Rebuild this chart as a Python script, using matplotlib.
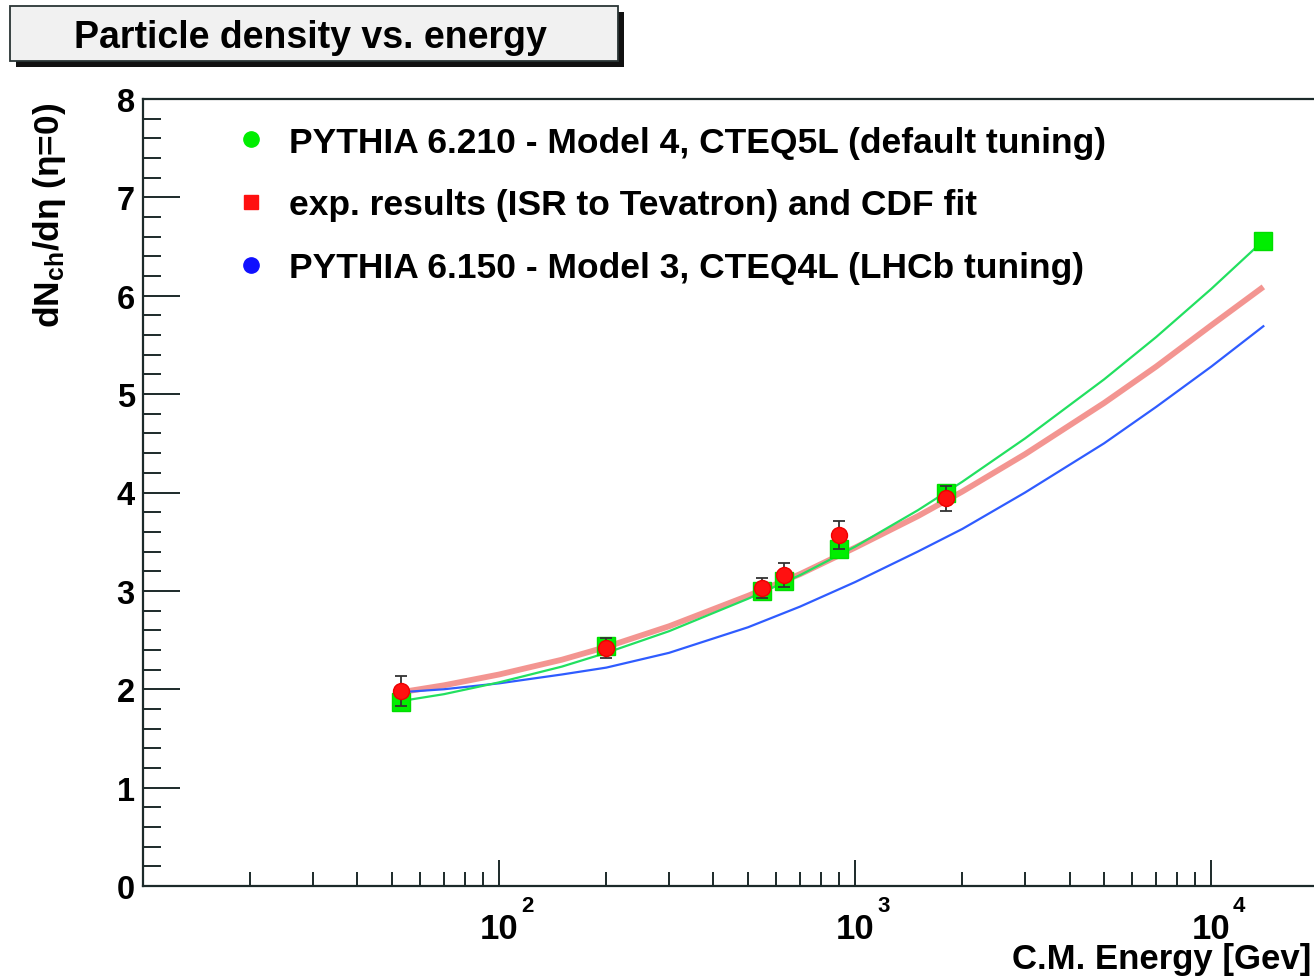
import numpy as np
import matplotlib
matplotlib.use("Agg")
import matplotlib.pyplot as plt
from matplotlib.patches import Rectangle
from matplotlib.lines import Line2D
from matplotlib.transforms import blended_transform_factory, ScaledTranslation
from matplotlib.ticker import FixedLocator, MultipleLocator, NullFormatter

# ---- data -------------------------------------------------------------
# Measured charged-particle density (ISR to Tevatron)
energy_exp = [53, 200, 546, 630, 900, 1800]
dndeta_exp = [1.98, 2.42, 3.03, 3.16, 3.57, 3.94]
dndeta_exp_err = [0.15, 0.10, 0.10, 0.12, 0.14, 0.13]

# PYTHIA 6.210 points (Model 4, CTEQ5L default tuning)
energy_p62 = [53, 200, 546, 630, 900, 1800, 14000]
dndeta_p62 = [1.87, 2.44, 3.00, 3.10, 3.43, 4.00, 6.56]

# Curves sampled along the energy axis
curve_energy = [53, 70, 100, 150, 200, 300, 500, 700, 1000, 1500, 2000,
                3000, 5000, 7000, 10000, 14000]
curve_p62 = [1.88, 1.95, 2.07, 2.23, 2.37, 2.59, 2.92, 3.16, 3.45, 3.82,
             4.11, 4.55, 5.15, 5.58, 6.07, 6.56]
curve_cdf_fit = [1.97, 2.04, 2.15, 2.30, 2.43, 2.64, 2.95, 3.17, 3.44, 3.76,
                 4.01, 4.39, 4.91, 5.28, 5.70, 6.09]
curve_p61 = [1.97, 2.00, 2.06, 2.15, 2.22, 2.37, 2.63, 2.84, 3.09, 3.40,
             3.63, 4.00, 4.50, 4.87, 5.28, 5.69]

x_tick_values = [100, 1000, 10000]
x_tick_exponents = ["2", "3", "4"]

legend_labels = [
    "PYTHIA 6.210 - Model 4, CTEQ5L (default tuning)",
    "exp. results (ISR to Tevatron) and CDF fit",
    "PYTHIA 6.150 - Model 3, CTEQ4L (LHCb tuning)",
]
title_text = "Particle density vs. energy"
x_label = "C.M. Energy [Gev]"
y_label = "dN$_{ch}$/dη (η=0)"

# ---- style ------------------------------------------------------------
plt.rcParams["font.family"] = ["Liberation Sans", "DejaVu Sans"]
plt.rcParams["font.weight"] = "bold"
plt.rcParams["mathtext.fontset"] = "custom"
plt.rcParams["mathtext.rm"] = "Liberation Sans:bold"
plt.rcParams["mathtext.bf"] = "Liberation Sans:bold"
plt.rcParams["mathtext.it"] = "Liberation Sans:bold"
plt.rcParams["mathtext.default"] = "bf"

W, H = 1314, 978
fig = plt.figure(figsize=(W / 100, H / 100), dpi=100)
fig.patch.set_facecolor("white")

def fx(px):
    return px / W

def fy(py):
    return 1 - py / H

ax_left, ax_right, ax_top, ax_bottom = 143, 1318.5, 100, 887
ax = fig.add_axes([fx(ax_left), fy(ax_bottom), fx(ax_right - ax_left),
                   (ax_bottom - ax_top) / H])
ax.set_xscale("log")
ax.set_xlim(10, 2e4)
ax.set_ylim(0, 8)

# curves
ax.plot(curve_energy, curve_cdf_fit, color="#f2837e", lw=4.2, alpha=0.85,
        solid_capstyle="butt", zorder=2)
ax.plot(curve_energy, curve_p61, color="#2f5cff", lw=1.6, zorder=3)
ax.plot(curve_energy, curve_p62, color="#22e060", lw=1.6, zorder=4)

# points
ax.plot(energy_p62, dndeta_p62, ls="none", marker="s", ms=12.5,
        color="#00ee00", mec="#00dd00", zorder=5)
ax.errorbar(energy_exp, dndeta_exp, yerr=dndeta_exp_err, fmt="none",
            ecolor="#333333", elinewidth=1.3, capsize=4, capthick=1.3,
            zorder=6)
ax.plot(energy_exp, dndeta_exp, ls="none", marker="o", ms=11.5,
        color="#ff1010", mec="#ee0000", zorder=7)

# axes, ticks
for s in ax.spines.values():
    s.set_linewidth(1.6)
    s.set_color("#1c2a2a")

ax.yaxis.set_major_locator(MultipleLocator(1))
ax.yaxis.set_minor_locator(MultipleLocator(0.2))
ax.xaxis.set_major_locator(FixedLocator(x_tick_values))
minors = [m * d for d in (10, 100, 1000, 10000) for m in range(2, 10)]
ax.xaxis.set_minor_locator(FixedLocator(minors))
ax.xaxis.set_minor_formatter(NullFormatter())
ax.xaxis.set_major_formatter(NullFormatter())

ax.tick_params(axis="y", which="major", direction="in", length=26.5,
               width=1.4, labelsize=23.5, pad=6, colors="#1c2a2a",
               labelcolor="black")
ax.tick_params(axis="y", which="minor", direction="in", length=13,
               width=1.4, colors="#1c2a2a")
ax.tick_params(axis="x", which="major", direction="in", length=19,
               width=1.4, colors="#1c2a2a")
ax.tick_params(axis="x", which="minor", direction="in", length=10,
               width=1.4, colors="#1c2a2a")
for lab in ax.get_yticklabels():
    lab.set_fontweight("bold")

# decade labels: mantissa centred on the tick, exponent raised at its right
xtrans = blended_transform_factory(ax.transData, ax.transAxes)
for xv, ex in zip(x_tick_values, x_tick_exponents):
    ax.text(xv, 0, "10", transform=xtrans + ScaledTranslation(0, -52 / 100, fig.dpi_scale_trans),
            ha="center", va="baseline", fontsize=25, fontweight="bold",
            clip_on=False)
    ax.text(xv, 0, ex, transform=xtrans + ScaledTranslation(28 / 100, -25 / 100, fig.dpi_scale_trans),
            ha="center", va="baseline", fontsize=16, fontweight="bold",
            clip_on=False)

# axis titles
fig.text(fx(50), fy(103), y_label, rotation=90, ha="center", va="top",
         fontsize=25.4, fontweight="bold")
fig.text(fx(1311), fy(969), x_label, ha="right", va="baseline",
         fontsize=25, fontweight="bold")

# legend (no frame)
leg_rows = [140, 203, 266]
leg_styles = [("o", "#00ee00", 11), ("s", "#ff1010", 9.5), ("o", "#1010ff", 11)]
for row, (mk, col, ms), lab in zip(leg_rows, leg_styles, legend_labels):
    fig.add_artist(Line2D([fx(251)], [fy(row)], marker=mk, color=col,
                          ms=ms, ls="none", transform=fig.transFigure))
    fig.text(fx(289), fy(row + 12.5), lab, ha="left", va="baseline",
             fontsize=25.5, fontweight="bold")

# title box with drop shadow
bx0, by0, bx1, by1 = 10, 7, 618, 62
shadow = Rectangle((fx(bx0 + 6), fy(by1 + 6)), fx(bx1 - bx0), (by1 - by0) / H,
                   transform=fig.transFigure, facecolor="#111111",
                   edgecolor="none", zorder=1)
box = Rectangle((fx(bx0), fy(by1)), fx(bx1 - bx0), (by1 - by0) / H,
                transform=fig.transFigure, facecolor="#f1f1f1",
                edgecolor="#2a3535", lw=1.3, zorder=2)
fig.add_artist(shadow)
fig.add_artist(box)
fig.text(fx(310), fy(48), title_text, ha="center", va="baseline",
         fontsize=27, fontweight="bold", zorder=3)

fig.savefig("out.png", dpi=100, facecolor="white")
